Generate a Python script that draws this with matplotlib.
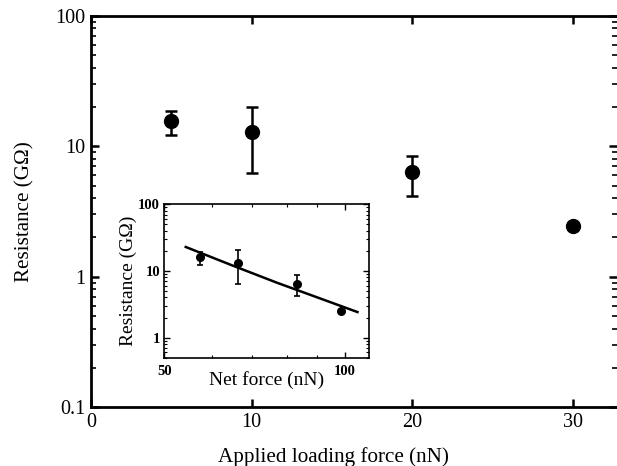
import matplotlib
matplotlib.use('Agg')
import matplotlib.pyplot as plt
from matplotlib.ticker import LogLocator, NullFormatter, FixedLocator, FixedFormatter

plt.rcParams['font.family'] = ['Liberation Serif', 'DejaVu Serif']

# Main plot data: applied loading force vs resistance
applied_force = [5, 10, 20, 30]
resistance = [15.6, 12.9, 6.36, 2.46]
res_upper = [18.7, 19.9, 8.44, 2.46]
res_lower = [12.2, 6.25, 4.14, 2.46]

# Inset data: net force vs resistance
net_force = [57.4, 66.5, 83.3, 98.5]
inset_res = [16.0, 13.3, 6.45, 2.5]
inset_upper = [19.0, 20.5, 8.6, 2.5]
inset_lower = [12.4, 6.3, 4.2, 2.5]

# fitted line in inset
fit_force = [54.3, 64.8, 77.1, 105.1]
fit_res = [22.9, 12.2, 6.67, 2.42]

fig = plt.figure(figsize=(6.17, 4.66), dpi=100)

# main axes
ax = fig.add_axes([91/617, 1 - 407.3/466, (616.5 - 91)/617, (407.3 - 15.7)/466])
yerr = [[r - lo for r, lo in zip(resistance, res_lower)],
        [up - r for r, up in zip(resistance, res_upper)]]
ax.errorbar(applied_force, resistance, yerr=yerr, fmt='o', color='black',
            markersize=10, elinewidth=1.8, capsize=4, capthick=1.8)
ax.set_yscale('log')
ax.set_ylim(0.1, 100)
ax.set_xlim(0, 32.7)
ax.set_xticks([0, 10, 20, 30])
ax.yaxis.set_major_locator(FixedLocator([0.1, 1, 10, 100]))
ax.yaxis.set_major_formatter(FixedFormatter(['0.1', '1', '10', '100']))
ax.yaxis.set_minor_locator(LogLocator(base=10, subs=range(2, 10), numticks=10))
ax.yaxis.set_minor_formatter(NullFormatter())
ax.tick_params(which='both', direction='in', top=True, right=True, labelsize=14.5)
ax.tick_params(which='major', length=6, width=1.8)
ax.tick_params(which='minor', length=3.5, width=1.2)
ax.tick_params(axis='x', pad=4)
ax.tick_params(axis='y', pad=4)
for s in ['left', 'bottom', 'top']:
    ax.spines[s].set_linewidth(2)
ax.spines['right'].set_visible(False)
ax.set_xlabel('Applied loading force (nN)', fontsize=15.2)
ax.xaxis.set_label_coords(0.462, -0.102)
ax.set_ylabel('Resistance (GΩ)', fontsize=15.2, labelpad=15)

# inset axes
ins = fig.add_axes([164.3/617, 1 - 357.7/466, (369.3 - 164.3)/617, (357.7 - 204.3)/466])
ierr = [[r - lo for r, lo in zip(inset_res, inset_lower)],
        [up - r for r, up in zip(inset_res, inset_upper)]]
ins.plot(fit_force, fit_res, color='black', linewidth=1.8)
ins.errorbar(net_force, inset_res, yerr=ierr, fmt='o', color='black',
             markersize=5.5, elinewidth=1.2, capsize=2.2, capthick=1.2)
ins.set_xscale('log')
ins.set_yscale('log')
ins.set_xlim(50, 110)
ins.set_ylim(0.5, 100)
ins.xaxis.set_major_locator(FixedLocator([50, 100]))
ins.xaxis.set_major_formatter(FixedFormatter(['50', '100']))
ins.xaxis.set_minor_locator(FixedLocator([60, 70, 80, 90]))
ins.xaxis.set_minor_formatter(NullFormatter())
ins.yaxis.set_major_locator(FixedLocator([1, 10, 100]))
ins.yaxis.set_major_formatter(FixedFormatter(['1', '10', '100']))
ins.yaxis.set_minor_locator(LogLocator(base=10, subs=range(2, 10), numticks=10))
ins.yaxis.set_minor_formatter(NullFormatter())
ins.tick_params(which='both', direction='in', top=True, right=True, labelsize=10.5)
ins.tick_params(which='major', length=4, width=1)
ins.tick_params(which='minor', length=2, width=0.8)
ins.tick_params(axis='x', pad=5)
ins.tick_params(axis='y', pad=3)
for lab in ins.get_xticklabels() + ins.get_yticklabels():
    lab.set_fontweight('bold')
for s in ins.spines.values():
    s.set_linewidth(1.2)
ins.set_xlabel('Net force (nN)', fontsize=14, labelpad=-5)
ins.set_ylabel('Resistance (GΩ)', fontsize=14, labelpad=1)

fig.savefig('out.png', dpi=100)
